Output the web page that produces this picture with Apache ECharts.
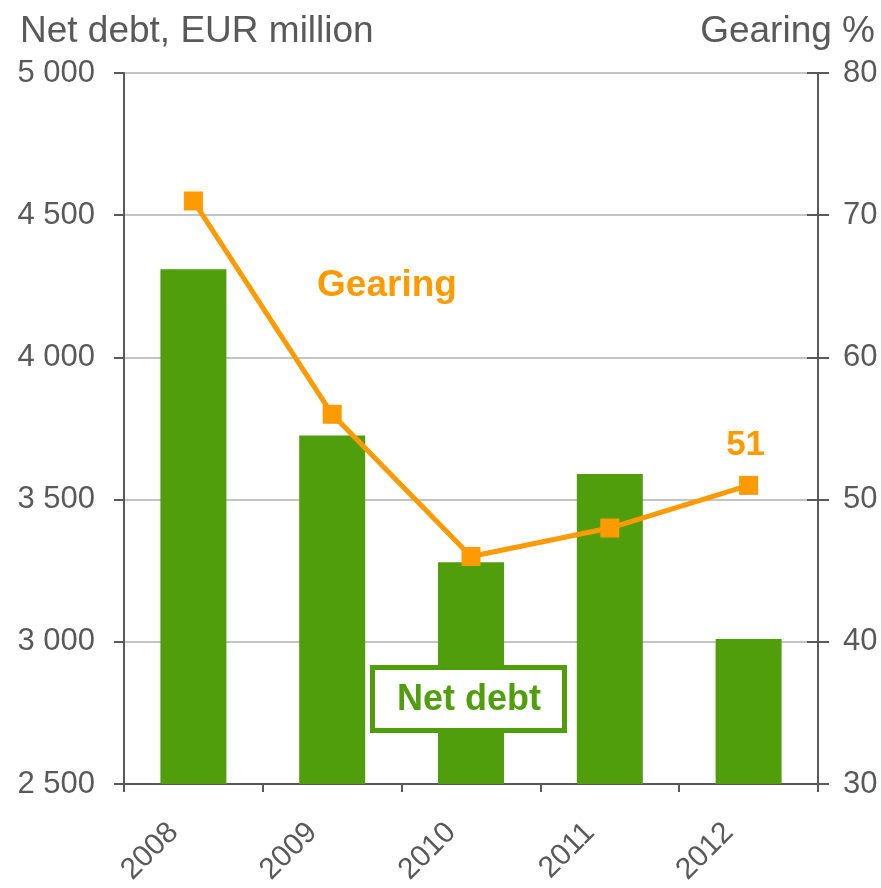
<!DOCTYPE html>
<html>
<head>
<meta charset="utf-8">
<title>Net debt and gearing</title>
<script src="https://cdn.jsdelivr.net/npm/echarts@6/dist/echarts.min.js"></script>
<style>
  html, body { margin: 0; padding: 0; background: #ffffff; }
  #chart { width: 881px; height: 888px; }
</style>
</head>
<body>
<div id="chart"></div>
<script>
// Years on the category axis
const years = ['2008', '2009', '2010', '2011', '2012'];
// Net debt, EUR million (bars, left axis)
const netDebt = [4310, 3725, 3280, 3590, 3010];
// Gearing, % (line, right axis)
const gearing = [71, 56, 46, 48, 51];
// Axis ranges
const debtTicks = { min: 2500, max: 5000, step: 500 };
const gearingTicks = { min: 30, max: 80, step: 10 };

const GREEN = '#519E0D';
const ORANGE = '#FF9A00';
const TEXT = '#595959';
const AXIS = '#595959';
const FONT = '"Liberation Sans", Arial, sans-serif';

const chart = echarts.init(document.getElementById('chart'), null, { renderer: 'canvas' });

const fmtThousands = v => {
  const s = String(v);
  return s.length > 3 ? s.slice(0, s.length - 3) + ' ' + s.slice(-3) : s;
};

chart.setOption({
  animation: false,
  backgroundColor: '#ffffff',
  textStyle: { fontFamily: FONT },
  grid: { left: 124, right: 63, top: 73, bottom: 104, containLabel: false },
  xAxis: {
    type: 'category',
    data: years,
    boundaryGap: true,
    axisLine: { show: true, lineStyle: { color: AXIS, width: 2 } },
    axisTick: { show: true, alignWithLabel: false, length: 8, lineStyle: { color: AXIS, width: 2 } },
    axisLabel: {
      rotate: 45, fontSize: 30, color: TEXT, margin: 24, fontFamily: FONT,
      padding: [0, 28, 0, 0]
    },
    splitLine: { show: false }
  },
  yAxis: [
    {
      type: 'value',
      position: 'left',
      min: debtTicks.min, max: debtTicks.max, interval: debtTicks.step,
      axisLine: { show: true, lineStyle: { color: AXIS, width: 2 } },
      axisTick: { show: true, length: 10, lineStyle: { color: AXIS, width: 2 } },
      axisLabel: { fontSize: 31, color: TEXT, margin: 29, formatter: fmtThousands, fontFamily: FONT },
      splitLine: { show: true, lineStyle: { color: '#c4c4c4', width: 2 } }
    },
    {
      type: 'value',
      position: 'right',
      min: gearingTicks.min, max: gearingTicks.max, interval: gearingTicks.step,
      axisLine: { show: true, lineStyle: { color: AXIS, width: 2 } },
      axisTick: { show: true, inside: false, length: 11, lineStyle: { color: AXIS, width: 2 } },
      axisLabel: { fontSize: 31, color: TEXT, margin: 25, fontFamily: FONT },
      splitLine: { show: false }
    },
    {
      // inner half of the right-hand tick marks
      type: 'value',
      position: 'right',
      min: gearingTicks.min, max: gearingTicks.max, interval: gearingTicks.step,
      axisLine: { show: false },
      axisTick: { show: true, inside: true, length: 11, lineStyle: { color: AXIS, width: 2 } },
      axisLabel: { show: false },
      splitLine: { show: false }
    }
  ],
  series: [
    {
      name: 'Net debt',
      type: 'bar',
      yAxisIndex: 0,
      data: netDebt,
      barWidth: 66,
      itemStyle: { color: GREEN },
      z: 2
    },
    {
      name: 'Gearing',
      type: 'line',
      yAxisIndex: 1,
      data: gearing.map((v, i) => i === gearing.length - 1
        ? { value: v, label: { show: true } }
        : v),
      symbol: 'rect',
      symbolSize: 19,
      lineStyle: { color: ORANGE, width: 5 },
      itemStyle: { color: ORANGE },
      label: {
        show: false,
        position: 'top',
        distance: 13,
        offset: [-3, 0],
        color: ORANGE,
        fontSize: 35,
        fontWeight: 'bold',
        fontFamily: FONT
      },
      z: 5
    }
  ],
  graphic: [
    {
      type: 'text', left: 20, top: 13,
      style: { text: 'Net debt, EUR million', fill: TEXT, font: '37px ' + FONT }
    },
    {
      type: 'text', right: 6, top: 13,
      style: { text: 'Gearing %', fill: TEXT, font: '37px ' + FONT, textAlign: 'right' }
    },
    {
      type: 'text', x: 387, y: 286, z: 10,
      style: { text: 'Gearing', fill: ORANGE, font: 'bold 37px ' + FONT, textAlign: 'center', textVerticalAlign: 'middle' }
    },
    {
      type: 'rect', z: 10,
      shape: { x: 372.5, y: 667.5, width: 192, height: 63 },
      style: { fill: '#ffffff', stroke: GREEN, lineWidth: 5 }
    },
    {
      type: 'text', x: 469, y: 700, z: 11,
      style: { text: 'Net debt', fill: GREEN, font: 'bold 36px ' + FONT, textAlign: 'center', textVerticalAlign: 'middle' }
    }
  ]
});
</script>
</body>
</html>
